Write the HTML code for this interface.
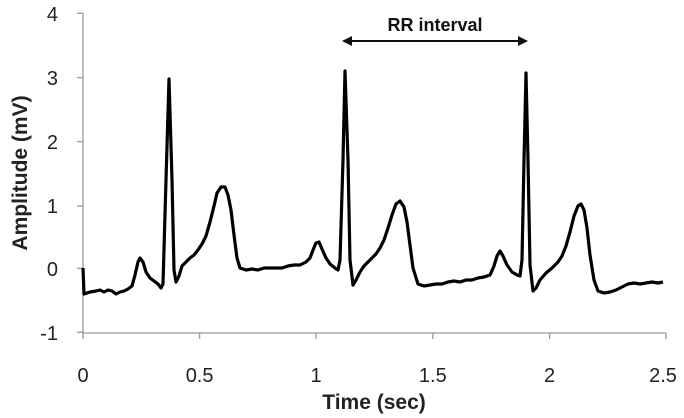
<!DOCTYPE html>
<html><head><style>
html,body{margin:0;padding:0;background:#fff;}
svg{display:block;font-family:"Liberation Sans",Arial,sans-serif;}
</style></head><body>
<svg width="684" height="418" viewBox="0 0 684 418" xmlns="http://www.w3.org/2000/svg">
<g stroke="#999" stroke-width="1.3" fill="none">
<line x1="83" y1="13" x2="83" y2="334"/>
<line x1="83" y1="333" x2="666" y2="333"/>
<line x1="77" y1="13.3" x2="83" y2="13.3"/>
<line x1="77" y1="77.7" x2="83" y2="77.7"/>
<line x1="77" y1="141.7" x2="83" y2="141.7"/>
<line x1="77" y1="206" x2="83" y2="206"/>
<line x1="77" y1="268.3" x2="83" y2="268.3"/>
<line x1="77" y1="332.3" x2="83" y2="332.3"/>
<line x1="83" y1="333" x2="83" y2="339"/>
<line x1="199.6" y1="333" x2="199.6" y2="339"/>
<line x1="316" y1="333" x2="316" y2="339"/>
<line x1="432.8" y1="333" x2="432.8" y2="339"/>
<line x1="549.6" y1="333" x2="549.6" y2="339"/>
<line x1="666" y1="333" x2="666" y2="339"/>
</g>
<g font-size="20" fill="#222" text-anchor="end">
<text x="58" y="21">4</text>
<text x="58" y="85">3</text>
<text x="58" y="149">2</text>
<text x="58" y="213">1</text>
<text x="58" y="276">0</text>
<text x="58" y="340">-1</text>
</g>
<g font-size="20" fill="#222" text-anchor="middle">
<text x="83" y="382">0</text>
<text x="199.6" y="382">0.5</text>
<text x="316" y="382">1</text>
<text x="432.8" y="382">1.5</text>
<text x="549.6" y="382">2</text>
<text x="663" y="382">2.5</text>
</g>
<text x="374" y="409" font-size="21" font-weight="bold" fill="#222" text-anchor="middle">Time (sec)</text>
<text transform="translate(27,173) rotate(-90)" font-size="21" font-weight="bold" fill="#222" text-anchor="middle">Amplitude (mV)</text>
<text x="435" y="31" font-size="18" font-weight="bold" fill="#111" text-anchor="middle">RR interval</text>
<line x1="346" y1="41" x2="524" y2="41" stroke="#111" stroke-width="2"/>
<path d="M342,41 L352,36 L352,46 Z M528,41 L518,36 L518,46 Z" fill="#111"/>
<path fill="none" stroke="#000" stroke-width="3.2" stroke-linejoin="round" d="
M83,268 L84,294 L90,292 L96,291 L100,290 L104,292 L108,290 L112,291 L116,294 L120,292 L124,291 L128,289 L132,286 L135,275 L138,262 L140,258 L143,262 L146,272 L150,278 L154,281 L158,284 L161,288 L163,284 L166,180 L169,79 L172,180 L174,270 L176,282 L179,276 L182,266 L186,262 L190,258 L194,255 L198,250 L202,244 L206,236 L210,222 L214,206 L217,193 L221,187 L225,187 L228,195 L231,210 L234,235 L237,258 L240,268 L246,270 L252,269 L258,270 L264,268 L270,268 L276,268 L282,268 L288,266 L294,265 L300,265 L306,262 L310,258 L313,250 L316,243 L319,242 L322,249 L326,258 L330,264 L335,268 L338,270 L340,260 L343,160 L345,71 L348,160 L350,260 L353,285 L356,280 L360,272 L364,266 L368,262 L372,258 L376,254 L380,248 L384,240 L388,228 L392,215 L396,204 L400,201 L404,207 L407,222 L410,245 L413,268 L418,284 L424,286 L430,285 L436,284 L442,284 L448,282 L454,281 L460,282 L466,280 L472,280 L478,278 L484,277 L490,275 L494,266 L497,256 L500,251 L503,256 L507,265 L512,272 L517,275 L520,276 L522,260 L524,160 L526,73 L528,160 L530,265 L533,291 L536,288 L540,280 L546,273 L552,268 L558,262 L562,256 L566,246 L570,232 L574,216 L578,206 L581,204 L584,210 L587,228 L590,255 L594,280 L598,291 L604,293 L610,292 L616,290 L622,287 L628,284 L634,283 L640,284 L646,283 L652,282 L658,283 L663,282"/>
</svg>
</body></html>
